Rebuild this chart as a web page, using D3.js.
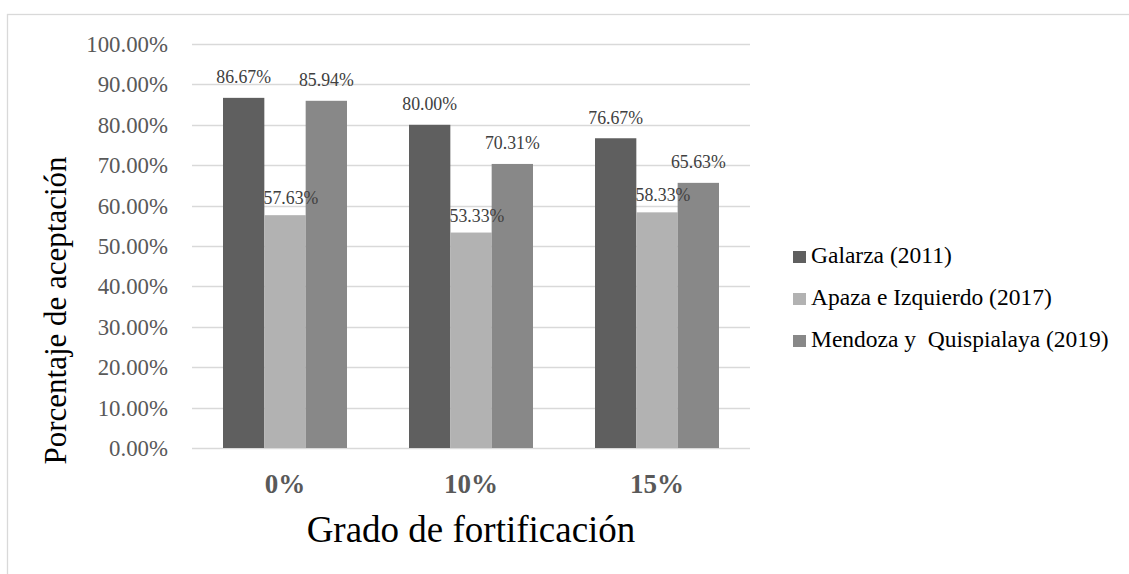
<!DOCTYPE html>
<html>
<head>
<meta charset="utf-8">
<script src="https://cdn.jsdelivr.net/npm/d3@7"></script>
<style>
  html, body { margin: 0; padding: 0; background: #fff; }
  svg { display: block; }
  svg text { font-family: "Liberation Serif", "Times New Roman", Times, serif !important; }
</style>
</head>
<body>
<svg id="chart" width="1129" height="574" font-family="Liberation Serif, Times New Roman, serif"></svg>
<script>
const categories = ["0%", "10%", "15%"];
const seriesNames = ["Galarza (2011)", "Apaza e Izquierdo (2017)", "Mendoza y  Quispialaya (2019)"];
const galarza = [0.8667, 0.8000, 0.7667];
const apaza = [0.5763, 0.5333, 0.5833];
const mendoza = [0.8594, 0.7031, 0.6563];
const yTicks = [0, 0.1, 0.2, 0.3, 0.4, 0.5, 0.6, 0.7, 0.8, 0.9, 1.0];
const seriesValues = [galarza, apaza, mendoza];
const colors = ["#5f5f5f", "#b2b2b2", "#888888"];

const FONT = '"Liberation Serif", "Times New Roman", Times, serif';
const svg = d3.select("#chart");
const plot = { left: 192, right: 750, top: 44, bottom: 448 };

// outer chart border (only top/left visible)
svg.append("rect")
  .attr("x", 7.5).attr("y", 14.5)
  .attr("width", 1300).attr("height", 800)
  .attr("fill", "none").attr("stroke", "#d9d9d9").attr("stroke-width", 1.3);

const y = d3.scaleLinear().domain([0, 1]).range([plot.bottom, plot.top]);
const x0 = d3.scaleBand().domain(categories).range([plot.left, plot.right])
  .paddingInner(1 / 3).paddingOuter(1 / 6);
const x1 = d3.scaleBand().domain(d3.range(seriesNames.length)).range([0, x0.bandwidth()]);

// gridlines
svg.append("g").selectAll("line").data(yTicks).join("line")
  .attr("x1", plot.left).attr("x2", plot.right)
  .attr("y1", d => Math.round(y(d)) + 0.5).attr("y2", d => Math.round(y(d)) + 0.5)
  .attr("stroke", "#d9d9d9").attr("stroke-width", 1.3);

// y axis labels
const fmt = d3.format(".2%");
const yAxis = d3.axisLeft(y).tickValues(yTicks).tickFormat(fmt).tickSize(0).tickPadding(0);
const gy = svg.append("g").attr("transform", `translate(168,0)`).call(yAxis);
gy.attr("font-family", null).attr("font-size", null);
gy.select(".domain").remove();
gy.selectAll("text")
  .attr("fill", "#595959")
  .style("font-family", FONT)
  .style("font-size", "22.8px")
  .attr("dy", "0.33em");

// bars
const data = [];
categories.forEach((c, ci) => {
  seriesValues.forEach((vals, si) => data.push({ c, si, v: vals[ci] }));
});

svg.append("g").selectAll("rect").data(data).join("rect")
  .attr("x", d => x0(d.c) + x1(d.si))
  .attr("y", d => y(d.v))
  .attr("width", x1.bandwidth())
  .attr("height", d => y(0) - y(d.v))
  .attr("fill", d => colors[d.si]);

// data labels
svg.append("g").selectAll("text").data(data).join("text")
  .attr("x", d => x0(d.c) + x1(d.si) + x1.bandwidth() / 2 + (d.si === 1 ? 6 : 0))
  .attr("y", d => y(d.v) - (d.si === 1 ? 11 : 14.5))
  .attr("text-anchor", "middle")
  .attr("fill", "#404040")
  .style("font-family", FONT)
  .style("font-size", "17.8px")
  .text(d => fmt(d.v));

// x axis category labels
const xAxis = d3.axisBottom(x0).tickSize(0).tickPadding(0);
const gx = svg.append("g").attr("transform", `translate(0,${plot.bottom})`).call(xAxis);
gx.attr("font-family", null).attr("font-size", null);
gx.select(".domain").remove();
gx.selectAll("text")
  .attr("y", 44.5).attr("dy", 0)
  .attr("fill", "#595959")
  .style("font-family", FONT)
  .style("font-size", "27px")
  .style("font-weight", "bold");

// axis titles
svg.append("text")
  .attr("x", (plot.left + plot.right) / 2).attr("y", 541.5)
  .attr("text-anchor", "middle").attr("fill", "#000")
  .style("font-family", FONT)
  .style("font-size", "37px")
  .text("Grado de fortificación");

svg.append("text")
  .attr("transform", "translate(66,310.5) rotate(-90)")
  .attr("text-anchor", "middle").attr("fill", "#000")
  .style("font-family", FONT)
  .style("font-size", "31px")
  .text("Porcentaje de aceptación");

// legend
const legend = svg.append("g").selectAll("g").data(seriesNames).join("g")
  .attr("transform", (d, i) => `translate(793,${263 + i * 42})`);
legend.append("rect")
  .attr("x", 0).attr("y", -12).attr("width", 13).attr("height", 12)
  .attr("fill", (d, i) => colors[i]);
legend.append("text")
  .attr("x", 18).attr("y", 0)
  .attr("fill", "#000")
  .style("font-family", FONT)
  .style("font-size", "23.5px")
  .style("white-space", "pre")
  .text(d => d);
</script>
</body>
</html>
